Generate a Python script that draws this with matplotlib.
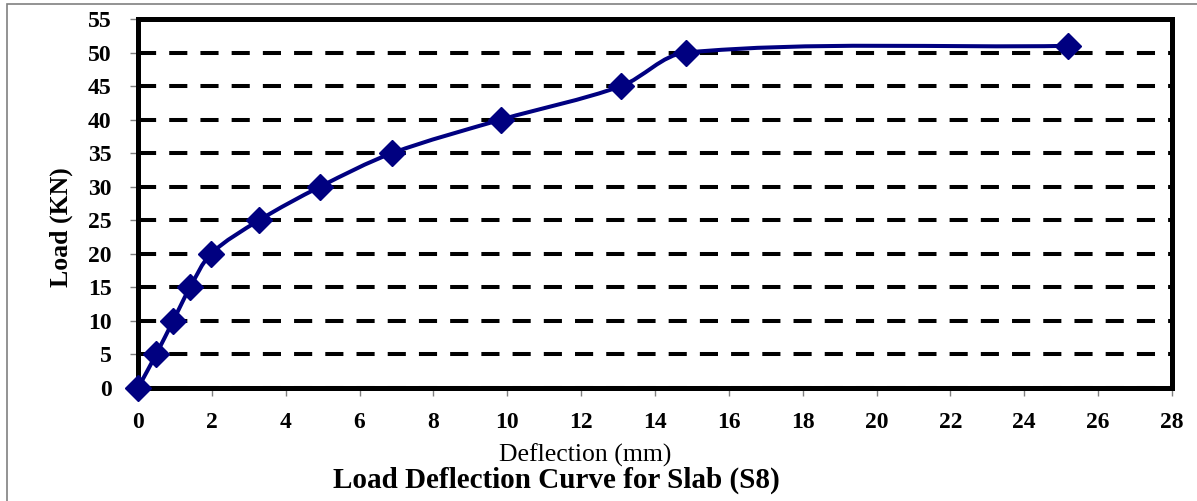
import math
import matplotlib
matplotlib.use("Agg")
import matplotlib.pyplot as plt
from matplotlib.path import Path
from matplotlib.patches import PathPatch, Rectangle

# ---- data ----
deflection = [0.0, 0.49, 0.95, 1.41, 1.98, 3.28, 4.93, 6.88, 9.83, 13.08, 14.84, 25.18]
load = [0, 5, 10, 15, 20, 25, 30, 35, 40, 45, 50, 51]
x_ticks = list(range(0, 29, 2))
y_ticks = list(range(0, 56, 5))
x_label = "Deflection (mm)"
y_label = "Load (KN)"
title = "Load Deflection Curve for Slab (S8)"

plt.rcParams['font.family'] = ['Liberation Serif', 'DejaVu Serif']

W, H = 1197, 501
fig = plt.figure(figsize=(W / 100, H / 100), dpi=100)
ax = fig.add_axes([138 / W, 1 - 388 / H, (1172 - 138) / W, (388 - 19) / H])
ax.set_xlim(0, 28)
ax.set_ylim(0, 55)

navy = '#000080'

# smooth (Excel-like) line: cubic Bezier segments built in display space
fig.canvas.draw()
pts = ax.transData.transform(list(zip(deflection, load)))
n = len(pts)
tang = []
for i in range(n):
    a = pts[max(i - 1, 0)]
    b = pts[min(i + 1, n - 1)]
    dx, dy = b[0] - a[0], b[1] - a[1]
    L = math.hypot(dx, dy) or 1.0
    tang.append((dx / L, dy / L))
verts = [tuple(pts[0])]
codes = [Path.MOVETO]
for i in range(n - 1):
    p1, p2 = pts[i], pts[i + 1]
    seg = math.hypot(p2[0] - p1[0], p2[1] - p1[1])
    k = seg / 3.0
    c1 = (p1[0] + tang[i][0] * k, p1[1] + tang[i][1] * k)
    c2 = (p2[0] - tang[i + 1][0] * k, p2[1] - tang[i + 1][1] * k)
    verts += [c1, c2, tuple(p2)]
    codes += [Path.CURVE4] * 3
data_verts = ax.transData.inverted().transform(verts)
ax.add_patch(PathPatch(Path(data_verts, codes), facecolor='none', edgecolor=navy,
                       lw=2.9, zorder=3, clip_on=False, transform=ax.transData))
ax.plot(deflection, load, linestyle='none', marker='D', markersize=13.5,
        color=navy, markeredgecolor=navy, zorder=4, clip_on=False)

ax.set_xticks(x_ticks)
ax.set_yticks(y_ticks)
ax.set_xticklabels([str(v) for v in x_ticks], fontsize=17, fontweight='bold')
ax.set_yticklabels([str(v) for v in y_ticks], fontsize=17, fontweight='bold')
ax.tick_params(axis='x', direction='out', length=6, width=1, color='#808080', pad=11)
ax.tick_params(axis='y', direction='out', length=6, width=1, color='#808080', pad=13)

ax.yaxis.grid(True, color='black', linewidth=2.9, linestyle=(0, (4.5, 3.25)))
ax.xaxis.grid(False)
ax.set_axisbelow(True)

for s in ax.spines.values():
    s.set_linewidth(3.6)
    s.set_color('black')

fig.text(61 / W, 1 - 227 / H, y_label, fontsize=18.5, fontweight='bold', rotation=90,
         ha='center', va='center')
fig.text(585 / W, 1 - 462 / H, x_label, fontsize=18.5, ha='center', va='baseline')
fig.text(556 / W, 1 - 488 / H, title, fontsize=21, fontweight='bold', ha='center', va='baseline')

fig.patches.append(Rectangle((7 / W, -0.1), 1.2, 1 - 4 / H + 0.1, transform=fig.transFigure,
                             fill=False, edgecolor='#808080', lw=1.2))

fig.savefig('out.png', dpi=100)
